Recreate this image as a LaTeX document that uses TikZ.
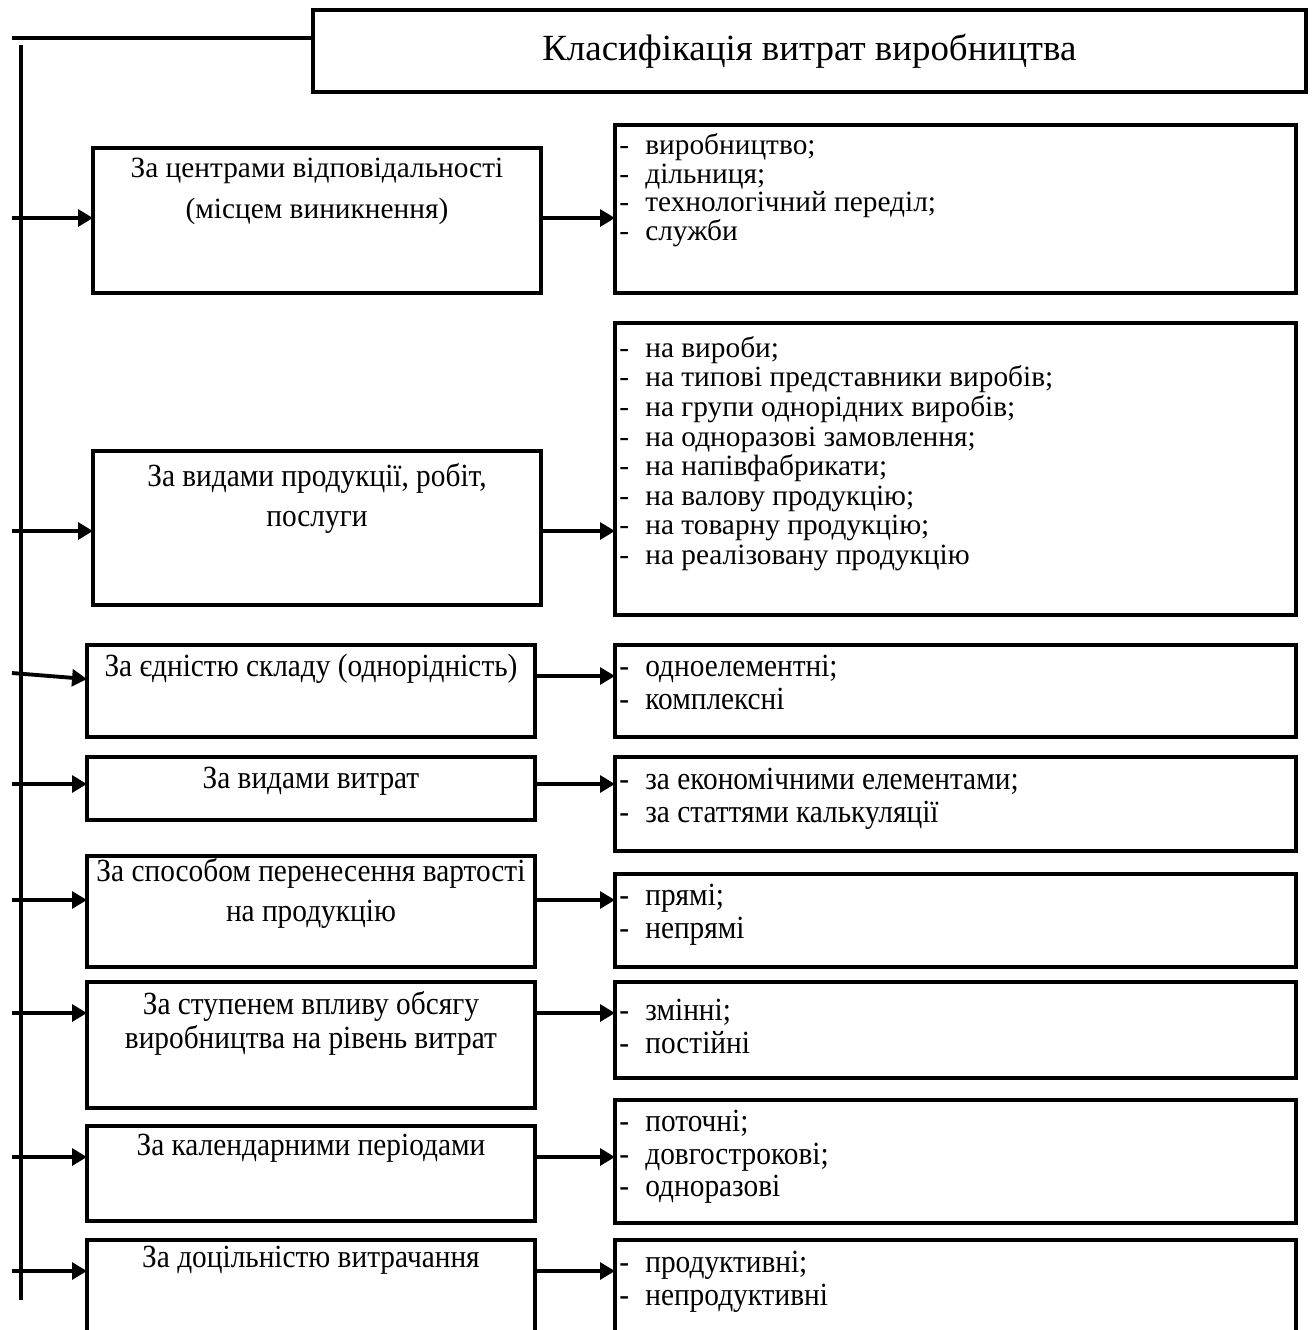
\documentclass[tikz,border=0pt]{standalone}
\usepackage{fontspec}
\setmainfont{Liberation Serif}
\usetikzlibrary{positioning, arrows.meta}

\newcommand{\dashline}[1]{\makebox[0.52cm][l]{-}#1}
\setlength{\lineskiplimit}{-20pt}

\tikzset{
  frame/.style={draw, line width=2.2pt, inner sep=0pt, outer sep=0pt, anchor=north west},
  critbox/.style={frame, minimum width=8.96cm},
  kindbox/.style={frame, minimum width=13.62cm},
  crittext/.style={anchor=north, align=center, inner sep=0pt, yscale=1.1, font=\fontsize{16.7}{20.6}\selectfont},
  kindtext/.style={anchor=north west, align=left, inner sep=0pt, yscale=1.1, font=\fontsize{16.7}{16.7}\selectfont},
  link/.style={line width=2.2pt},
  arrow/.style={link, -{Triangle[length=8.5pt,width=9.5pt]}}
}

\begin{document}
\begin{tikzpicture}[x=0.02cm, y=-0.02cm]
  \useasboundingbox (0,0) rectangle (1313,1330);
  \clip (0,0) rectangle (1313,1330);

  % Title
  \node[frame, minimum width=19.86cm, minimum height=1.64cm, font=\fontsize{21}{25}\selectfont] (title) at (313,10) {Класифікація витрат виробництва};

  % Criteria
  \node[critbox, minimum height=2.9cm] (crit1) at (93,148) {};
  \node[critbox, minimum height=3.08cm] (crit2) at (93,451) {};
  \node[critbox, minimum height=1.84cm] (crit3) at (87,645) {};
  \node[critbox, minimum height=1.26cm] (crit4) at (87,757) {};
  \node[critbox, minimum height=2.22cm] (crit5) at (87,856) {};
  \node[critbox, minimum height=2.52cm] (crit6) at (87,982) {};
  \node[critbox, minimum height=1.9cm] (crit7) at (87,1126) {};
  \node[critbox, minimum height=2.4cm] (crit8) at (87,1240) {};

  \node[crittext, below=0.2cm of crit1.north, yscale=0.91, font=\fontsize{16.7}{23.2}\selectfont] (crit1text) {За центрами відповідальності\\(місцем виникнення)};
  \node[crittext, below=0.24cm of crit2.north] (crit2text) {За видами продукції, робіт,\\послуги};
  \node[crittext, below=0.18cm of crit3.north] (crit3text) {За єдністю складу (однорідність)};
  \node[crittext, below=0.2cm of crit4.north] (crit4text) {За видами витрат};
  \node[crittext, below=0.04cm of crit5.north] (crit5text) {За способом перенесення вартості\\на продукцію};
  \node[crittext, below=0.18cm of crit6.north, font=\fontsize{16.7}{17.5}\selectfont] (crit6text) {За ступенем впливу обсягу\\виробництва на рівень витрат};
  \node[crittext, below=0.16cm of crit7.north] (crit7text) {За календарними періодами};
  \node[crittext, below=0.12cm of crit8.north] (crit8text) {За доцільністю витрачання};

  % Kinds
  \node[kindbox, minimum height=3.36cm] (kind1) at (615,125) {};
  \node[kindbox, minimum height=5.84cm] (kind2) at (615,323) {};
  \node[kindbox, minimum height=1.84cm] (kind3) at (615,645) {};
  \node[kindbox, minimum height=1.88cm] (kind4) at (615,757) {};
  \node[kindbox, minimum height=1.86cm] (kind5) at (615,874) {};
  \node[kindbox, minimum height=1.92cm] (kind6) at (615,982) {};
  \node[kindbox, minimum height=2.46cm] (kind7) at (615,1100) {};
  \node[kindbox, minimum height=2.4cm] (kind8) at (615,1240) {};

  \node[kindtext, below right=0.16cm and 0.08cm of kind1.north west, yscale=0.91, font=\fontsize{16.7}{16.3}\selectfont] (kind1text) {\dashline{виробництво;}\\\dashline{дільниця;}\\\dashline{технологічний переділ;}\\\dashline{служби}};
  \node[kindtext, below right=0.26cm and 0.08cm of kind2.north west, yscale=0.91, font=\fontsize{16.7}{16.8}\selectfont] (kind2text) {\dashline{на вироби;}\\\dashline{на типові представники виробів;}\\\dashline{на групи однорідних виробів;}\\\dashline{на одноразові замовлення;}\\\dashline{на напівфабрикати;}\\\dashline{на валову продукцію;}\\\dashline{на товарну продукцію;}\\\dashline{на реалізовану продукцію}};
  \node[kindtext, below right=0.2cm and 0.08cm of kind3.north west] (kind3text) {\dashline{одноелементні;}\\\dashline{комплексні}};
  \node[kindtext, below right=0.22cm and 0.08cm of kind4.north west] (kind4text) {\dashline{за економічними елементами;}\\\dashline{за статтями калькуляції}};
  \node[kindtext, below right=0.2cm and 0.08cm of kind5.north west] (kind5text) {\dashline{прямі;}\\\dashline{непрямі}};
  \node[kindtext, below right=0.34cm and 0.08cm of kind6.north west] (kind6text) {\dashline{змінні;}\\\dashline{постійні}};
  \node[kindtext, below right=0.2cm and 0.08cm of kind7.north west] (kind7text) {\dashline{поточні;}\\\dashline{довгострокові;}\\\dashline{одноразові}};
  \node[kindtext, below right=0.22cm and 0.08cm of kind8.north west] (kind8text) {\dashline{продуктивні;}\\\dashline{непродуктивні}};

  % Trunk
  \coordinate (titlelink) at (12,38);
  \coordinate (trunktop) at (21,45);
  \coordinate (trunkend) at (21,1300);
  \draw[link] (titlelink) -- (titlelink -| title.west);
  \draw[link] (trunktop) -- (trunkend);

  % Arrows
  \foreach \i/\y in {1/218, 2/531, 4/784, 5/900, 6/1013, 7/1157, 8/1271} {
    \coordinate (from\i) at (12,\y);
    \draw[arrow] (from\i) -- (from\i -| crit\i.west);
    \draw[arrow] (from\i -| crit\i.east) -- (from\i -| kind\i.west);
  }
  \coordinate (from3) at (12,673);
  \coordinate (to3) at (87,679);
  \coordinate (mid3) at (12,676);
  \draw[arrow] (from3) -- (to3);
  \draw[arrow] (mid3 -| crit3.east) -- (mid3 -| kind3.west);
\end{tikzpicture}
\end{document}
